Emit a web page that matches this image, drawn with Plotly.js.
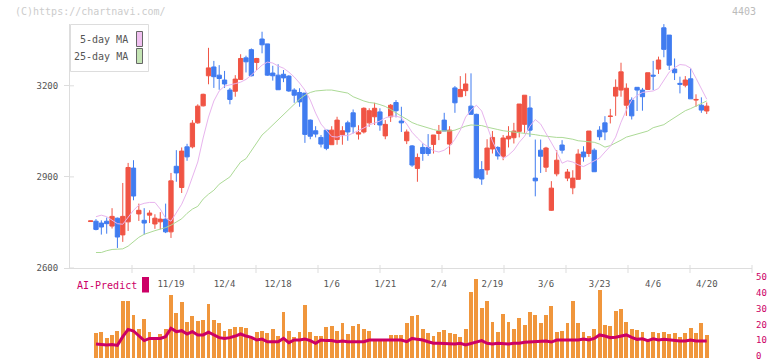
<!DOCTYPE html>
<html>
<head>
<meta charset="utf-8">
<script src="https://cdn.plot.ly/plotly-3.0.1.min.js"></script>
<style>html,body{margin:0;padding:0;background:#fff;}#chart{width:772px;height:361px;}</style>
</head>
<body>
<div id="chart"></div>
<script>
// ---- data ----
const openP  = [2753,2754,2748,2754,2738,2764,2709,2752,2929,2778,2757,2774,2745,2752,2761,2719,2935,2865,2999,2999,3078,3134,3233,3262,3235,3219,3186,3182,3221,3292,3319,3277,3354,3338,3242,3235,3238,3232,3186,3178,3176,3087,3052,3030,3054,3006,3023,3039,3078,3111,3041,3048,3078,3098,3114,3035,3098,3145,3084,3019,3002,2928,2997,2997,3007,3043,3087,3008,3193,3164,3184,3133,3106,2924,2923,2992,2997,2968,3025,3029,3050,3073,3127,2896,2988,2932,2790,2910,3005,2896,2864,2892,2982,2977,2988,3054,3078,3099,3166,3186,3136,3153,3195,3186,3188,3235,3255,3391,3367,3255,3208,3202,3223,3153,3136,3117];
const highP  = [2755,2761,2757,2766,2797,2766,2880,2946,2955,2812,2797,2790,2777,2784,2812,2913,2988,2997,3009,3087,3139,3174,3325,3282,3268,3249,3193,3235,3304,3299,3323,3292,3378,3338,3266,3271,3252,3235,3192,3192,3176,3089,3067,3038,3054,3067,3098,3067,3085,3122,3070,3129,3126,3144,3126,3087,3140,3153,3131,3056,3005,2977,3010,3041,3038,3071,3111,3067,3199,3232,3241,3241,3108,2952,3024,3051,3001,3038,3067,3078,3140,3169,3166,3023,3023,2999,2886,2988,3021,2926,2922,2991,3001,3051,2994,3067,3100,3124,3221,3276,3208,3162,3195,3193,3243,3282,3296,3403,3367,3290,3230,3232,3257,3172,3162,3145];
const lowP   = [2753,2724,2710,2713,2730,2666,2686,2722,2823,2755,2710,2748,2729,2727,2715,2699,2884,2847,2953,2994,3075,3132,3205,3193,3187,3193,3139,3164,3219,3244,3231,3252,3307,3233,3217,3187,3212,3180,3144,3131,3012,3024,3030,2997,2988,3006,3006,3006,3019,3043,3023,3043,3065,3071,3052,3024,3081,3096,3048,3008,2933,2884,2953,2969,2977,3021,3051,2974,3111,3164,3166,3106,2895,2874,2907,2977,2957,2955,2997,3010,3030,3045,3032,2836,2913,2916,2788,2902,2977,2886,2843,2892,2950,2966,2917,3021,3021,3076,3101,3164,3101,3089,3117,3118,3186,3186,3239,3294,3252,3219,3175,3195,3157,3131,3111,3107];
const closeP = [2755,2727,2735,2746,2770,2702,2770,2931,2837,2790,2748,2781,2764,2761,2719,2887,2913,2985,2966,3077,3133,3172,3259,3230,3224,3206,3155,3222,3290,3279,3233,3290,3335,3235,3233,3187,3226,3183,3169,3147,3040,3034,3041,3008,2994,3054,3087,3052,3048,3065,3045,3126,3118,3126,3071,3073,3136,3118,3078,3048,2939,2964,2977,2977,3038,3051,3051,3054,3144,3188,3206,3106,2897,2893,2995,3030,2969,3028,3034,3051,3140,3169,3054,2887,2968,2995,2863,2955,2988,2916,2896,2975,2966,3051,2917,3032,3048,3100,3195,3246,3192,3101,3186,3164,3243,3232,3285,3320,3268,3243,3205,3219,3157,3155,3120,3133];
const ma5    = [null,2769,2774,2769,2757,2746,2744,2767,2790,2807,2813,2816,2816,2794,2764,2754,2780,2810,2850,2899,2949,3028,3097,3150,3183,3199,3202,3207,3212,3221,3235,3252,3268,3278,3275,3265,3258,3245,3229,3209,3186,3153,3110,3074,3054,3033,3031,3036,3036,3044,3051,3061,3071,3077,3084,3094,3100,3100,3095,3074,3047,3028,3011,2998,2986,2982,2988,3001,3024,3054,3097,3120,3136,3117,3067,3018,2982,2960,2972,2988,3014,3034,3067,3089,3074,3044,3014,2982,2945,2953,2949,2940,2934,2944,2952,2962,2982,3001,3031,3080,3120,3153,3168,3178,3181,3183,3191,3219,3245,3260,3270,3268,3258,3225,3193,3156];
const ma25   = [null,2651,2651,2657,2661,2662,2663,2672,2688,2701,2711,2718,2723,2728,2733,2741,2752,2762,2780,2794,2803,2827,2843,2856,2876,2888,2900,2925,2949,2960,2985,3011,3038,3054,3071,3090,3107,3123,3140,3156,3169,3178,3183,3185,3186,3186,3183,3179,3176,3164,3156,3150,3145,3143,3138,3132,3122,3110,3100,3090,3079,3072,3066,3061,3056,3052,3051,3051,3054,3061,3067,3071,3071,3069,3064,3061,3056,3052,3050,3049,3047,3044,3042,3039,3036,3034,3031,3030,3030,3028,3024,3019,3018,3016,3014,3008,2998,3003,3011,3021,3031,3036,3039,3044,3051,3062,3067,3072,3084,3095,3107,3118,3125,3133,3140,3150];
const volume = [null,16.0,16.7,12.9,14.6,17.3,36.3,36.3,27.2,18.4,24.7,16.7,12.4,15.2,18.4,39.9,28.7,35.4,23.0,26.6,23.6,24.1,34.2,24.1,22.4,17.3,18.4,19.8,19.8,18.8,13.1,16.7,17.1,16.0,18.4,13.9,29.3,17.1,13.1,16.7,33.5,16.7,13.9,13.9,19.8,20.3,17.3,22.4,15.2,20.3,21.5,18.4,17.3,11.4,11.4,11.0,14.6,14.6,14.6,22.4,26.6,27.2,18.4,15.6,13.9,16.7,17.7,15.6,15.0,13.1,18.4,42.0,50.0,31.8,36.3,23.0,16.7,27.8,23.0,18.4,25.1,20.9,28.9,27.2,22.4,27.2,32.9,16.7,17.3,22.4,36.3,22.4,16.7,13.9,18.4,43.0,20.9,20.3,29.7,31.0,23.0,18.4,17.7,16.7,11.4,16.7,16.0,16.7,15.2,16.0,13.5,16.0,19.2,16.0,22.4,14.6];
const aiPredict = [null,8.9,8.6,8.2,8.6,8.0,13.5,18.1,17.1,13.9,11.0,12.4,12.4,12.4,13.5,18.8,16.7,17.3,15.2,16.7,14.6,14.6,16.3,14.6,12.9,12.4,12.9,13.9,15.2,13.9,13.1,11.4,12.0,10.3,10.3,10.3,12.4,9.7,11.4,11.4,12.0,11.0,9.3,11.4,11.0,11.0,10.3,10.7,10.3,10.3,10.3,10.3,11.4,11.4,11.0,11.0,11.4,11.4,11.4,10.3,12.4,11.8,11.4,10.3,9.3,9.3,9.3,9.0,8.8,9.3,8.2,9.3,10.3,11.0,9.3,8.9,9.3,8.9,8.9,9.3,9.3,9.9,10.1,10.7,10.7,10.7,10.1,11.4,11.4,11.4,11.4,11.4,12.0,11.4,12.4,14.6,13.9,12.9,13.1,13.9,14.6,13.1,11.8,12.2,11.0,12.2,11.4,11.8,11.4,11.4,10.7,10.7,11.4,10.7,10.7,10.7];
const tickIndex  = [15,25,35,45,55,65,75,85,95,105,115];
const tickLabels = ['11/19','12/4','12/18','1/6','1/21','2/4','2/19','3/6','3/23','4/6','4/20'];
const priceTicks = [2600,2900,3200];
const volTicks   = [0,10,20,30,40,50];

// ---- layout helpers (pixel -> paper) ----
const L = 70, R = 752, T = 24, B = 358;
const px = v => (v - L) / (R - L);
const py = v => (B - v) / (B - T);
const idx = openP.map((_, i) => i);
const FONT = 'DejaVu Sans Mono, Liberation Mono, monospace';
const RED = '#F05444', BLUE = '#407CF0';

const traces = [
  {type:'candlestick', x: idx, open: openP, high: highP, low: lowP, close: closeP,
   xaxis:'x', yaxis:'y', whiskerwidth: 0, hoverinfo:'skip',
   increasing:{line:{color:RED, width:1}, fillcolor:RED},
   decreasing:{line:{color:BLUE, width:1}, fillcolor:BLUE}},
  {type:'scatter', mode:'lines', x: idx, y: ma25, xaxis:'x', yaxis:'y',
   line:{color:'#ACDA96', width:1}, hoverinfo:'skip'},
  {type:'scatter', mode:'lines', x: idx, y: ma5, xaxis:'x', yaxis:'y',
   line:{color:'#E8B4EE', width:1}, hoverinfo:'skip'},
  {type:'bar', x: idx, y: volume, xaxis:'x2', yaxis:'y2', width: 0.72,
   marker:{color:'#F0963C', line:{width:0}}, hoverinfo:'skip'},
  {type:'scatter', mode:'lines', x: idx, y: aiPredict, xaxis:'x2', yaxis:'y2',
   line:{color:'#CC0066', width:3}, hoverinfo:'skip'}
];

const shapes = [];
for (let k = 1; k <= 11; k++) {
  shapes.push({type:'line', xref:'paper', yref:'paper', x0:k/11, x1:k/11,
    y0:py(265), y1:py(273), line:{color:'#ddd', width:1}});
}
// inner half of the price tick marks (they cross the axis line)
priceTicks.forEach(v => shapes.push({type:'line', xref:'paper', yref:'y', x0:0, x1:px(74), y0:v, y1:v,
  line:{color:'#ddd', width:1}}));
shapes.push({type:'rect', xref:'paper', yref:'paper', x0:px(70.5), x1:px(148.5), y0:py(24.5), y1:py(71.5),
  line:{color:'#ddd', width:1}, fillcolor:'#fff'});
shapes.push({type:'rect', xref:'paper', yref:'paper', x0:px(136.5), x1:px(142.5), y0:py(31.5), y1:py(46.5),
  line:{color:'#666', width:1}, fillcolor:'#F0C0F0'});
shapes.push({type:'rect', xref:'paper', yref:'paper', x0:px(136.5), x1:px(142.5), y0:py(48.5), y1:py(63.5),
  line:{color:'#666', width:1}, fillcolor:'#C4E4B4'});
shapes.push({type:'rect', xref:'paper', yref:'paper', x0:px(142), x1:px(149), y0:py(277), y1:py(292.5),
  line:{width:0}, fillcolor:'#CC0066'});

const ann = (text, x, y, xa, color, size) => ({text, xref:'paper', yref:'paper', x:px(x), y:py(y),
  xanchor:xa, yanchor:'middle', showarrow:false, font:{family:FONT, size, color}});

const annotations = [
  ann('5-day MA', 130, 39.5, 'right', '#555', 10),
  ann('25-day MA', 130, 56.5, 'right', '#555', 10),
  ann('(C)https://chartnavi.com/', 13, 12, 'left', '#ccc', 10),
  ann('4403', 758, 12, 'right', '#bbb', 10),
  ann('AI-Predict', 75, 285, 'left', '#CC0066', 10)
];

const layout = {
  width: 772, height: 361,
  margin: {l: L, r: 772 - R, t: T, b: 361 - B, pad: 0},
  paper_bgcolor: '#fff', plot_bgcolor: 'rgba(0,0,0,0)',
  showlegend: false, boxgap: 0.2, boxgroupgap: 0, bargap: 0,
  font: {family: FONT, size: 9, color: '#555'},
  xaxis: {domain:[0,1], range:[-3.85, 123.45], anchor:'y', showline:true, linecolor:'#ddd', linewidth:1,
    showgrid:false, zeroline:false, ticks:'', tickmode:'array', tickvals: tickIndex, ticktext: tickLabels,
    tickfont:{family:FONT, size:9, color:'#555'}, ticklabelstandoff: 7, rangeslider:{visible:false}, fixedrange:true},
  yaxis: {domain:[py(268), 1], range:[2600, 3403.5], anchor:'x', showline:true, linecolor:'#ddd', linewidth:1,
    ticks:'outside', ticklen:5, tickcolor:'#ddd', tickmode:'array', tickvals: priceTicks,
    showgrid:false, zeroline:false, tickfont:{family:FONT, size:9, color:'#555'}, ticklabelstandoff: 4, fixedrange:true},
  xaxis2: {domain:[0,1], range:[-3.85, 123.45], anchor:'y2', showline:false, showticklabels:false, ticks:'',
    showgrid:false, zeroline:false, fixedrange:true},
  yaxis2: {domain:[0, py(279)], range:[0, 50], anchor:'x2', side:'right', showline:false, ticks:'',
    tickmode:'array', tickvals: volTicks, showgrid:false, zeroline:false, ticklabeloverflow:'allow',
    ticklabelshift: -2,
    tickfont:{family:FONT, size:9, color:'#CC0066'}, ticklabelstandoff: 3, fixedrange:true},
  shapes, annotations
};

Plotly.newPlot('chart', traces, layout, {displayModeBar:false, staticPlot:true});
</script>
</body>
</html>
